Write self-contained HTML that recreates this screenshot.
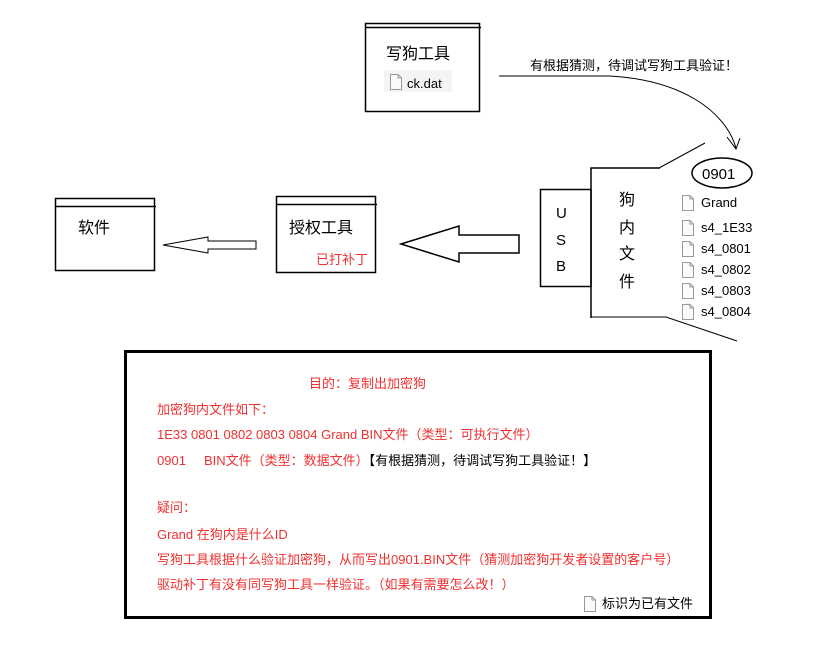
<!DOCTYPE html>
<html><head><meta charset="utf-8"><style>
body{margin:0;background:#fff;}
svg{display:block;font-family:"Liberation Sans","Noto Sans CJK SC",sans-serif;}
</style></head><body>
<svg width="825" height="652" viewBox="0 0 825 652" xmlns="http://www.w3.org/2000/svg">
<defs>
<g id="fi"><path d="M0.5 0.5 H8 L11.5 4 V15.5 H0.5 Z" fill="#fafafa" stroke="#999"/><path d="M8 0.5 V4 H11.5" fill="none" stroke="#999"/></g>
</defs>
<g fill="none" stroke="#000" stroke-width="1.5">
<!-- 写狗工具 -->
<rect x="365.5" y="23.5" width="114" height="88"/>
<line x1="365" y1="27.5" x2="481" y2="27.5"/>
<!-- curve -->
<path d="M499 76 H610 C680 80 725 110 736 148" stroke-width="1"/>
<path d="M727 137 L736 149 L740 138" stroke-width="1"/>
<line x1="659" y1="168" x2="705" y2="143" stroke-width="1"/>
<ellipse cx="722" cy="173" rx="30" ry="15"/>
<!-- 狗内文件 -->
<polyline points="591,318 591,168 660,168"/>
<polyline points="591,317 666,317 737,341" stroke-width="1"/>
<rect x="540.5" y="189.5" width="50.5" height="97"/>
<!-- 软件 -->
<rect x="55.5" y="198.5" width="99" height="72"/>
<line x1="55" y1="206.5" x2="156" y2="206.5"/>
<!-- 授权工具 -->
<rect x="276.5" y="196.5" width="99" height="76"/>
<line x1="276" y1="204.5" x2="377" y2="204.5"/>
<!-- arrows -->
<polygon points="163,245 208,237 208,241 256,241 256,249 208,249 208,253" stroke-width="1"/>
<polygon points="401,244 459,226 459,235 519,235 519,253 459,253 459,262"/>
<!-- big box -->
<rect x="125.5" y="351.5" width="585" height="266" stroke-width="3"/>
</g>
<g font-size="15" fill="#000">
<text x="386" y="59" font-size="16">写狗工具</text>
<rect x="384" y="70" width="68" height="22" fill="#f4f4f4"/>
<use href="#fi" x="390" y="74"/>
<text x="407" y="88" font-size="13">ck.dat</text>
<text x="530" y="70" font-size="13">有根据猜测，待调试写狗工具验证！</text>
<text x="702" y="179" font-size="15">0901</text>
<text x="78" y="233" font-size="16">软件</text>
<text x="289" y="233" font-size="16">授权工具</text>
<text x="316" y="264" font-size="13" fill="#f03030">已打补丁</text>
<text x="556" y="218" font-size="15">U</text>
<text x="556" y="245" font-size="15">S</text>
<text x="556" y="271" font-size="15">B</text>
<text x="619" y="205" font-size="16">狗</text>
<text x="619" y="233" font-size="16">内</text>
<text x="619" y="259" font-size="16">文</text>
<text x="619" y="287" font-size="16">件</text>
<g font-size="13">
<use href="#fi" x="682" y="195"/><text x="701" y="207">Grand</text>
<use href="#fi" x="682" y="220"/><text x="701" y="232">s4_1E33</text>
<use href="#fi" x="682" y="241"/><text x="701" y="253">s4_0801</text>
<use href="#fi" x="682" y="262"/><text x="701" y="274">s4_0802</text>
<use href="#fi" x="682" y="283"/><text x="701" y="295">s4_0803</text>
<use href="#fi" x="682" y="304"/><text x="701" y="316">s4_0804</text>
</g>
<g font-size="13" fill="#f03030">
<text x="309" y="388">目的：复制出加密狗</text>
<text x="157" y="414">加密狗内文件如下：</text>
<text x="157" y="439">1E33 0801 0802 0803 0804 Grand   BIN文件（类型：可执行文件）</text>
<text x="157" y="465">0901<tspan x="204">BIN文件（类型：数据文件）</tspan><tspan fill="#000">【有根据猜测，待调试写狗工具验证！】</tspan></text>
<text x="157" y="512">疑问：</text>
<text x="157" y="539">Grand 在狗内是什么ID</text>
<text x="157" y="564">写狗工具根据什么验证加密狗，从而写出0901.BIN文件（猜测加密狗开发者设置的客户号）</text>
<text x="157" y="589">驱动补丁有没有同写狗工具一样验证。（如果有需要怎么改！）</text>
</g>
<use href="#fi" x="584" y="596"/>
<text x="602" y="608" font-size="13">标识为已有文件</text>
</g>
</svg>
</body></html>
